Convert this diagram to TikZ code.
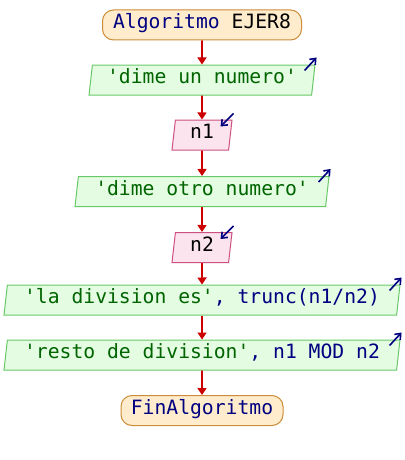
\documentclass[tikz,border=0pt]{standalone}
\usepackage{fontspec}
\setmonofont{DejaVu Sans Mono}
\usetikzlibrary{shapes.geometric,arrows.meta,calc}
\definecolor{termfill}{RGB}{254,236,204}
\definecolor{termdraw}{RGB}{204,140,56}
\definecolor{outfill}{RGB}{228,252,226}
\definecolor{outdraw}{RGB}{104,200,104}
\definecolor{infill}{RGB}{252,228,238}
\definecolor{indraw}{RGB}{204,80,130}
\definecolor{flow}{RGB}{204,0,0}
\definecolor{kw}{RGB}{0,0,128}
\definecolor{str}{RGB}{0,100,0}
\newcommand{\kwd}[1]{\textcolor{kw}{#1}}
\newcommand{\strg}[1]{\textcolor{str}{#1}}
\begin{document}
\begin{tikzpicture}[x=1pt,y=-1pt,
  every node/.style={font=\ttfamily\fontsize{19.7}{22}\selectfont,
    inner sep=0pt, text height=0.73em, text depth=0pt},
  termbox/.style={draw=termdraw, fill=termfill, line width=1pt,
    rounded corners=11pt, minimum height=30pt},
  iobox/.style={trapezium, trapezium left angle=65, trapezium right angle=115,
    trapezium stretches body, minimum height=30pt, line width=1pt},
  outbox/.style={iobox, draw=outdraw, fill=outfill},
  inbox/.style={iobox, draw=indraw, fill=infill},
  flowline/.style={draw=flow, line width=1.6pt, -{Triangle[width=9pt,length=7pt]}},
  icon/.style={draw=kw, line width=1.6pt, -{Straight Barb[width=8pt,length=5pt]}}
]
\useasboundingbox (0,0) rectangle (404,460);

\node[termbox, minimum width=199pt] (start) at (202,25) {\kwd{Algoritmo} EJER8};
\node[outbox, minimum width=226pt] (o1) at (202,80) {\strg{'dime un numero'}};
\node[inbox, minimum width=60pt] (i1) at (202,135) {n1};
\node[outbox, minimum width=254pt] (o2) at (202,191.5) {\strg{'dime otro numero'}};
\node[inbox, minimum width=60pt] (i2) at (202,247.5) {n2};
\node[outbox, minimum width=396pt] (o3) at (202,300) {\strg{'la division es'}\kwd{, trunc(n1/n2)}};
\node[outbox, minimum width=396pt] (o4) at (202,355) {\strg{'resto de division'}\kwd{, n1 MOD n2}};
\node[termbox, minimum width=162pt] (fin) at (202,410.5) {\kwd{FinAlgoritmo}};

% flow connectors
\draw[flowline] (start.south) -- (o1.north);
\draw[flowline] (o1.south) -- (i1.north);
\draw[flowline] (i1.south) -- (o2.north);
\draw[flowline] (o2.south) -- (i2.north);
\draw[flowline] (i2.south) -- (o3.north);
\draw[flowline] (o3.south) -- (o4.north);
\draw[flowline] (o4.south) -- (fin.north);

% output / input markers
\foreach \n in {o1,o2,o3,o4}
  \draw[icon] ($(\n.top right corner)+(-11,6)$) -- ($(\n.top right corner)+(1,-7)$);
\foreach \n in {i1,i2}
  \draw[icon] ($(\n.top right corner)+(1,-6)$) -- ($(\n.top right corner)+(-12,7)$);
\end{tikzpicture}
\end{document}
